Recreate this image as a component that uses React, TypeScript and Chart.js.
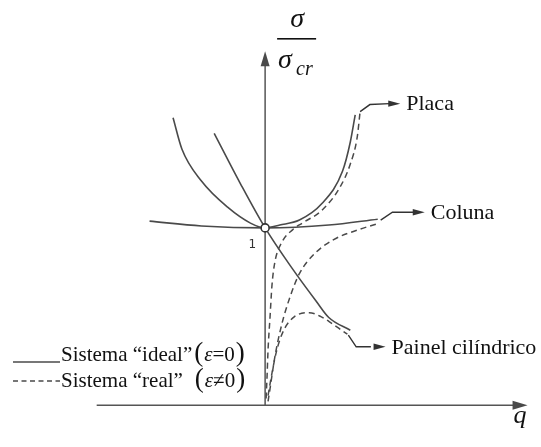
import { useEffect, useRef } from 'react';
import { Chart, registerables } from 'chart.js';

Chart.register(...registerables);

// Load parameter q (horizontal) and stress ratio σ/σcr (vertical)
const placaIdealQ = [-0.94, -0.85, -0.65, -0.38, -0.15, 0, 0.15, 0.35, 0.58, 0.79, 0.87, 0.92];
const placaIdealS = [1.621, 1.445, 1.264, 1.115, 1.027, 1.0, 1.016, 1.044, 1.137, 1.319, 1.484, 1.637];

const colunaIdealQ = [-1.18, -0.65, 0, 0.65, 1.15];
const colunaIdealS = [1.038, 1.011, 1.0, 1.016, 1.049];

const painelIdealQ = [-0.52, -0.25, 0, 0.28, 0.52, 0.65, 0.87];
const painelIdealS = [1.533, 1.247, 1.0, 0.769, 0.588, 0.495, 0.423];

const placaRealQ = [0.01, 0.02, 0.03, 0.05, 0.07, 0.1, 0.17, 0.28, 0.38, 0.58, 0.76, 0.87, 0.94, 0.97];
const placaRealS = [0.038, 0.165, 0.313, 0.495, 0.676, 0.808, 0.918, 0.989, 1.027, 1.099, 1.225, 1.36, 1.51, 1.655];

const colunaRealQ = [0.03, 0.05, 0.1, 0.17, 0.25, 0.35, 0.5, 0.7, 0.95, 1.17];
const colunaRealS = [0.022, 0.093, 0.275, 0.456, 0.604, 0.742, 0.852, 0.934, 0.989, 1.027];

const painelRealQ = [0.03, 0.07, 0.12, 0.19, 0.3, 0.45, 0.57, 0.68, 0.79, 0.84];
const painelRealS = [0.055, 0.181, 0.313, 0.423, 0.5, 0.522, 0.5, 0.462, 0.42, 0.401];

// Leader lines from curve ends to their labels (last point = arrow tip)
const placaLeaderQ = [0.97, 1.07, 1.27, 1.38];
const placaLeaderS = [1.655, 1.695, 1.7, 1.7];
const colunaLeaderQ = [1.18, 1.3, 1.52, 1.63];
const colunaLeaderS = [1.044, 1.088, 1.088, 1.088];
const painelLeaderQ = [0.85, 0.93, 1.08, 1.23];
const painelLeaderS = [0.396, 0.33, 0.33, 0.33];

const curveLabels = ['Placa', 'Coluna', 'Painel cilíndrico'];

// Axis extents
const qAxisStart = -1.72;
const qAxisEnd = 2.68;
const sAxisEnd = 1.995;

// Critical point
const criticalQ = [0];
const criticalS = [1];

const SERIF = '"Liberation Serif", "Times New Roman", serif';
const INK = '#111';
const LINE = '#4a4a4a';

const pts = (xs: number[], ys: number[]) => xs.map((x, i) => ({ x, y: ys[i] }));

function arrowHead(ctx: CanvasRenderingContext2D, fx: number, fy: number, tx: number, ty: number, len: number, half: number) {
  const a = Math.atan2(ty - fy, tx - fx);
  const bx = tx - Math.cos(a) * len;
  const by = ty - Math.sin(a) * len;
  const nx = -Math.sin(a) * half;
  const ny = Math.cos(a) * half;
  ctx.beginPath();
  ctx.moveTo(tx, ty);
  ctx.lineTo(bx + nx, by + ny);
  ctx.lineTo(bx - nx, by - ny);
  ctx.closePath();
  ctx.fill();
}

const annotate = {
  id: 'annotate',
  afterDatasetsDraw(chart: any) {
    const { ctx, scales } = chart;
    const px = (v: number) => scales.x.getPixelForValue(v);
    const py = (v: number) => scales.y.getPixelForValue(v);
    ctx.save();
    ctx.fillStyle = LINE;

    // axis arrowheads
    arrowHead(ctx, px(0), py(0), px(0), py(sAxisEnd), 15, 4.5);
    arrowHead(ctx, px(qAxisStart), py(0), px(qAxisEnd), py(0), 15, 4.5);

    // leader arrowheads
    const leaders = [
      [placaLeaderQ, placaLeaderS],
      [colunaLeaderQ, colunaLeaderS],
      [painelLeaderQ, painelLeaderS],
    ];
    ctx.fillStyle = '#333';
    leaders.forEach(([qs, ss]) => {
      const n = qs.length;
      arrowHead(ctx, px(qs[n - 2]), py(ss[n - 2]), px(qs[n - 1]), py(ss[n - 1]), 12, 3.2);
    });

    // curve labels
    ctx.fillStyle = INK;
    ctx.textBaseline = 'middle';
    ctx.textAlign = 'left';
    ctx.font = `22px ${SERIF}`;
    leaders.forEach(([qs, ss], i) => {
      const n = qs.length;
      ctx.fillText(curveLabels[i], px(qs[n - 1]) + 6, py(ss[n - 1]) + 1);
    });

    // "1" at the critical point
    ctx.font = `12px "DejaVu Sans", sans-serif`;
    ctx.fillStyle = '#333';
    ctx.textAlign = 'right';
    ctx.fillText('1', px(0) - 9, py(1) + 17);

    // vertical axis title: σ / σcr
    const ax = px(0);
    ctx.fillStyle = INK;
    ctx.textAlign = 'center';
    ctx.font = `italic 28px ${SERIF}`;
    ctx.fillText('σ', ax + 32, 20);
    ctx.fillRect(ax + 12, 38, 39, 1.6);
    ctx.textAlign = 'left';
    ctx.fillText('σ', ax + 13, 61);
    ctx.font = `italic 20px ${SERIF}`;
    ctx.fillText('cr', ax + 31, 70);

    // horizontal axis title
    ctx.font = `italic 26px ${SERIF}`;
    ctx.textAlign = 'left';
    ctx.fillText('q', px(qAxisEnd) - 14, py(0) + 11);

    // legend
    const drawEntry = (yMid: number, lineY: number, dashed: boolean, label: string, gap: number, rel: string) => {
      ctx.strokeStyle = LINE;
      ctx.lineWidth = 1.5;
      ctx.setLineDash(dashed ? [5, 3.5] : []);
      ctx.beginPath();
      ctx.moveTo(13, lineY);
      ctx.lineTo(60, lineY);
      ctx.stroke();
      ctx.setLineDash([]);
      ctx.fillStyle = INK;
      ctx.textAlign = 'left';
      ctx.font = `21px ${SERIF}`;
      let cx = 61;
      ctx.fillText(label, cx, yMid);
      cx += ctx.measureText(label).width + gap;
      ctx.font = `27px ${SERIF}`;
      ctx.fillText('(', cx, yMid - 1);
      cx += ctx.measureText('(').width + 1;
      ctx.font = `italic 21px ${SERIF}`;
      ctx.fillText('ε', cx, yMid);
      cx += ctx.measureText('ε').width;
      ctx.font = `21px ${SERIF}`;
      ctx.fillText(rel, cx, yMid);
      cx += ctx.measureText(rel).width + 1;
      ctx.font = `27px ${SERIF}`;
      ctx.fillText(')', cx, yMid - 1);
    };
    drawEntry(355, 362, false, 'Sistema “ideal”', 2, '=0');
    drawEntry(381, 381, true, 'Sistema “real”', 12, '≠0');

    ctx.restore();
  },
};

export default function App() {
  const ref = useRef<HTMLCanvasElement | null>(null);

  useEffect(() => {
    if (!ref.current) return;
    const solid = { borderColor: LINE, borderWidth: 1.6, pointRadius: 0, showLine: true, cubicInterpolationMode: 'monotone' as const };
    const dashed = { ...solid, borderDash: [6, 4], borderWidth: 1.5 };
    const leader = { borderColor: '#333', borderWidth: 1.4, pointRadius: 0, showLine: true, tension: 0 };
    const axis = { borderColor: '#555', borderWidth: 1.5, pointRadius: 0, showLine: true, tension: 0 };

    const chart = new Chart(ref.current, {
      type: 'scatter',
      data: {
        datasets: [
          { ...solid, data: pts(placaIdealQ, placaIdealS) },
          { ...solid, data: pts(colunaIdealQ, colunaIdealS) },
          { ...solid, data: pts(painelIdealQ, painelIdealS) },
          { ...dashed, data: pts(placaRealQ, placaRealS) },
          { ...dashed, data: pts(colunaRealQ, colunaRealS) },
          { ...dashed, data: pts(painelRealQ, painelRealS) },
          { ...leader, data: pts(placaLeaderQ, placaLeaderS).slice(0, -1) },
          { ...leader, data: pts(colunaLeaderQ, colunaLeaderS).slice(0, -1) },
          { ...leader, data: pts(painelLeaderQ, painelLeaderS).slice(0, -1) },
          { ...axis, data: [{ x: 0, y: 0 }, { x: 0, y: sAxisEnd - 0.05 }] },
          { ...axis, data: [{ x: qAxisStart, y: 0 }, { x: qAxisEnd - 0.1, y: 0 }] },
          {
            data: pts(criticalQ, criticalS),
            showLine: false,
            pointRadius: 4,
            pointBackgroundColor: '#fff',
            pointBorderColor: '#333',
            pointBorderWidth: 1.6,
            order: -1,
          },
        ],
      },
      options: {
        animation: false,
        responsive: true,
        maintainAspectRatio: false,
        layout: { padding: 0 },
        plugins: { legend: { display: false }, tooltip: { enabled: false } },
        scales: {
          x: { type: 'linear', min: -2.65, max: 2.76, display: false },
          y: { type: 'linear', min: -0.2033, max: 2.2527, display: false },
        },
      },
      plugins: [annotate],
    });
    return () => chart.destroy();
  }, []);

  return (
    <div style={{ position: 'fixed', left: 0, top: 0, width: 541, height: 447, background: '#fff' }}>
      <canvas ref={ref} />
    </div>
  );
}
